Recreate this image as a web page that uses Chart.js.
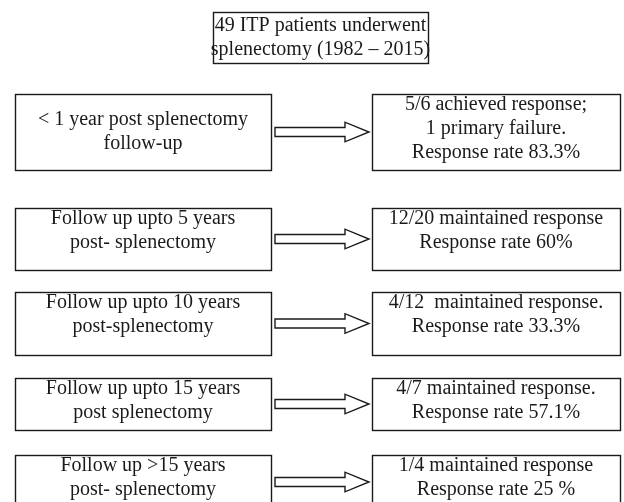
<!DOCTYPE html>
<html lang="en">
<head>
    <meta charset="UTF-8">
    <title>ITP splenectomy follow-up</title>
    <script src="https://cdn.jsdelivr.net/npm/chart.js"></script>
    <style>
        body { margin: 0; background: #fff; }
        canvas { display: block; }
    </style>
</head>
<body>
    <canvas id="flow" width="624" height="502"></canvas>

    <script>
        // Chart data
        const titleLines = ['49 ITP patients underwent', 'splenectomy (1982 \u2013 2015)'];

        const followUp = [
            ['< 1 year post splenectomy', 'follow-up'],
            ['Follow up upto 5 years', 'post- splenectomy'],
            ['Follow up upto 10 years', 'post-splenectomy'],
            ['Follow up upto 15 years', 'post splenectomy'],
            ['Follow up >15 years', 'post- splenectomy']
        ];

        const outcome = [
            ['5/6 achieved response;', '1 primary failure.', 'Response rate 83.3%'],
            ['12/20 maintained response', 'Response rate 60%'],
            ['4/12  maintained response.', 'Response rate 33.3%'],
            ['4/7 maintained response.', 'Response rate 57.1%'],
            ['1/4 maintained response', 'Response rate 25 %']
        ];

        // Layout (page units, mapped through the chart scales)
        const layout = {
            title: { x0: 213, x1: 428, y0: 12, y1: 63 },
            left: { x0: 15, x1: 271 },
            right: { x0: 372, x1: 620 },
            rowTop: [94, 208, 292, 378, 455],
            rowBottom: [170, 270, 355, 430, 509],
            leftAlign: ['middle', 'top', 'top', 'top', 'top'],
            arrow: { x0: 275, neck: 345, tip: 369, shaft: 4.5, head: 9.8 },
            lineHeight: 24,
            topInset: 11
        };

        const ink = '#1a1a1a';
        const font = '20px "Liberation Serif", "Times New Roman", serif';

        const flowPlugin = {
            id: 'flow',
            afterDraw(chart) {
                const { ctx, scales: { x, y } } = chart;
                const px = v => x.getPixelForValue(v);
                const py = v => y.getPixelForValue(v);

                function box(x0, x1, y0, y1) {
                    const l = Math.round(px(x0)) + 0.5, r = Math.round(px(x1)) + 0.5;
                    const t = Math.round(py(y0)) + 0.5, b = Math.round(py(y1)) + 0.5;
                    ctx.fillStyle = '#fff';
                    ctx.fillRect(l, t, r - l, b - t);
                    ctx.strokeRect(l, t, r - l, b - t);
                }

                function lines(text, x0, x1, y0, y1, align) {
                    const cx = (px(x0) + px(x1)) / 2;
                    const h = layout.lineHeight;
                    const start = align === 'top'
                        ? py(y0) + layout.topInset
                        : (py(y0) + py(y1)) / 2 - (text.length - 1) * h / 2;
                    ctx.fillStyle = ink;
                    text.forEach((s, i) => ctx.fillText(s, cx, start + i * h));
                }

                function arrow(c) {
                    const a = layout.arrow;
                    ctx.beginPath();
                    ctx.moveTo(px(a.x0), py(c - a.shaft));
                    ctx.lineTo(px(a.neck), py(c - a.shaft));
                    ctx.lineTo(px(a.neck), py(c - a.head));
                    ctx.lineTo(px(a.tip), py(c));
                    ctx.lineTo(px(a.neck), py(c + a.head));
                    ctx.lineTo(px(a.neck), py(c + a.shaft));
                    ctx.lineTo(px(a.x0), py(c + a.shaft));
                    ctx.closePath();
                    ctx.fillStyle = '#fff';
                    ctx.fill();
                    ctx.stroke();
                }

                ctx.save();
                ctx.strokeStyle = ink;
                ctx.lineWidth = 1.4;
                ctx.lineJoin = 'miter';
                ctx.font = font;
                ctx.textAlign = 'center';
                ctx.textBaseline = 'middle';

                const t = layout.title;
                box(t.x0, t.x1, t.y0, t.y1);
                lines(titleLines, t.x0, t.x1, t.y0, t.y1, 'middle');

                followUp.forEach((text, i) => {
                    const y0 = layout.rowTop[i], y1 = layout.rowBottom[i];
                    box(layout.left.x0, layout.left.x1, y0, y1);
                    lines(text, layout.left.x0, layout.left.x1, y0, y1, layout.leftAlign[i]);

                    box(layout.right.x0, layout.right.x1, y0, y1);
                    lines(outcome[i], layout.right.x0, layout.right.x1, y0, y1, 'top');

                    arrow((y0 + y1) / 2);
                });
                ctx.restore();
            }
        };

        new Chart(document.getElementById('flow').getContext('2d'), {
            type: 'scatter',
            data: { datasets: [{ data: [], pointRadius: 0 }] },
            options: {
                responsive: false,
                animation: false,
                events: [],
                layout: { padding: 0 },
                plugins: { legend: { display: false }, tooltip: { enabled: false } },
                scales: {
                    x: { type: 'linear', min: 0, max: 624, display: false },
                    y: { type: 'linear', min: 0, max: 502, reverse: true, display: false }
                }
            },
            plugins: [flowPlugin]
        });
    </script>
</body>
</html>
